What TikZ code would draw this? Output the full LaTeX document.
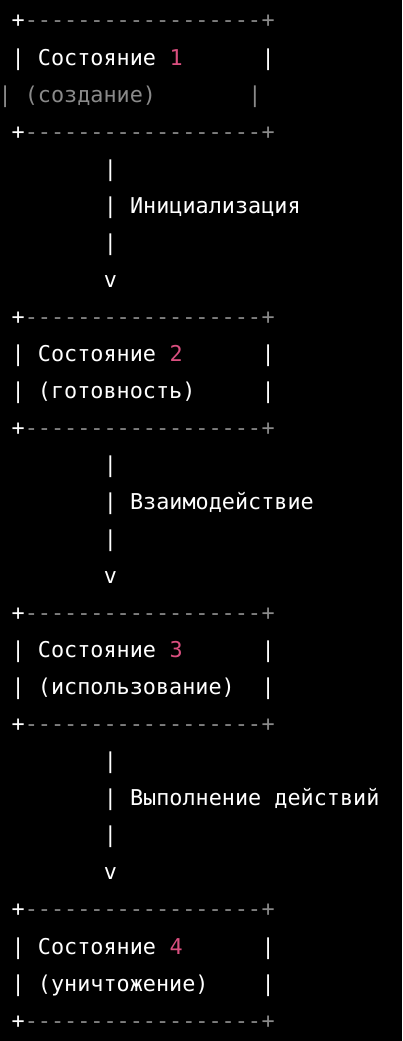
\documentclass[tikz,border=0pt]{standalone}
\usepackage{fontspec}
\setmonofont{DejaVu Sans Mono}
\usepackage{xcolor}
\usepackage{tikz}
\usetikzlibrary{positioning}
\definecolor{termbg}{HTML}{000000}
\definecolor{termfg}{HTML}{FFFFFF}
\definecolor{termgray}{HTML}{8A8A8A}
\definecolor{termpink}{HTML}{D94F7F}

\tikzset{
  cell/.style={inner sep=0pt, anchor=base west, text=termfg,
               font=\ttfamily\fontsize{21.8}{26}\selectfont},
  dim/.style={cell, text=termgray},
  num/.style={cell, text=termpink},
}

\begin{document}
\begin{tikzpicture}[x=1pt, y=1pt]
  \useasboundingbox[fill=termbg] (0,0) rectangle (402,-1041);
  % one unit = one character cell, one line of the terminal
  \begin{scope}[x=13.15pt, y=-37.04pt, shift={(11.5pt,-28pt)}]
    % box borders
    \foreach \r in {0,3,8,11,16,19,24,27}{
      \node[cell] (plusl\r) at (0,\r) {+};
      \node[dim] (dash\r) at (1,\r) {------------------};
      \node[dim] (plusr\r) at (19,\r) {+};
    }
    % first line of every box
    \foreach \r/\n in {1/1, 9/2, 17/3, 25/4}{
      \node[cell] (barl\r) at (0,\r) {|};
      \node[cell] (state\r) at (2,\r) {Состояние};
      \node[num] (num\r) at (12,\r) {\n};
      \node[cell] (barr\r) at (19,\r) {|};
    }
    % second line of every box
    \node[dim] (barl2) at (-1,2) {|};
    \node[dim] (phase2) at (1,2) {(создание)};
    \node[dim] (barr2) at (18,2) {|};
    \foreach \r/\t in {10/{(готовность)}, 18/{(использование)}, 26/{(уничтожение)}}{
      \node[cell] (barl\r) at (0,\r) {|};
      \node[cell] (phase\r) at (2,\r) {\t};
      \node[cell] (barr\r) at (19,\r) {|};
    }
    % arrows between the boxes
    \foreach \r/\t in {4/Инициализация, 12/Взаимодействие, 20/Выполнение действий}{
      \pgfmathtruncatemacro{\ra}{\r+1}
      \pgfmathtruncatemacro{\rb}{\r+2}
      \pgfmathtruncatemacro{\rc}{\r+3}
      \node[cell] (stem\r) at (7,\r) {|};
      \node[cell] (stem\ra) at (7,\ra) {|};
      \node[cell] (step\ra) at (9,\ra) {\t};
      \node[cell] (stem\rb) at (7,\rb) {|};
      \node[cell] (tip\rc) at (7,\rc) {v};
    }
  \end{scope}
\end{tikzpicture}
\end{document}
